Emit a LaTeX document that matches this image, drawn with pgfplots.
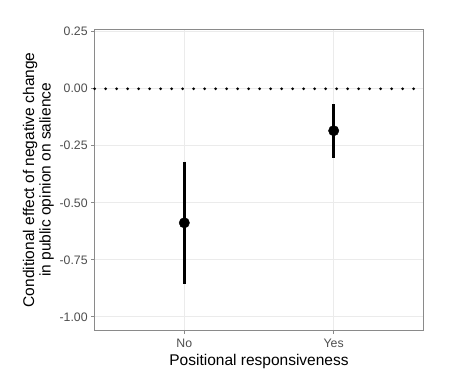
\documentclass[border=0pt]{standalone}
\usepackage{pgfplots}
\pgfplotsset{compat=1.18}
\usepackage{fontspec}
\setmainfont{Liberation Sans}
\definecolor{gridc}{HTML}{EBEBEB}
\definecolor{tickc}{HTML}{4D4D4D}
\definecolor{framec}{HTML}{8A8A8A}
\begin{document}
\begin{tikzpicture}[x=1bp,y=1bp]
\path[use as bounding box] (0,0) rectangle (458,379);
\begin{axis}[
  at={(94.7bp,49bp)}, anchor=south west,
  scale only axis, width=328.6bp, height=300.3bp,
  xmin=0.4, xmax=2.6, ymin=-1.058, ymax=0.259,
  xtick={1,2}, xticklabels={No,Yes},
  ytick={-1,-0.75,-0.5,-0.25,0,0.25},
  yticklabels={-1.00,-0.75,-0.50,-0.25,0.00,0.25},
  grid=major, major grid style={gridc, line width=0.8bp},
  axis line style={framec, line width=0.8bp},
  tick style={framec, line width=0.8bp},
  major tick length=3.5bp,
  tick align=outside, xtick pos=bottom, ytick pos=left,
  ticklabel style={font=\fontsize{12.3bp}{14bp}\selectfont, text=tickc},
  xticklabel style={yshift=-2bp},
  label style={font=\fontsize{15.5bp}{16.5bp}\selectfont},
  xlabel={Positional responsiveness},
  ylabel={Conditional effect of negative change\\in public opinion on salience},
  ylabel style={align=center, yshift=-1bp},
  xlabel style={yshift=0bp},
  clip=false,
]
\addplot[black, line width=3bp, dash pattern=on 0pt off 11bp, line cap=round, forget plot] coordinates {(0.4,0) (2.6,0)};
\addplot[black, line width=3.2bp, forget plot] coordinates {(1,-0.32) (1,-0.857)};
\addplot[black, line width=3.2bp, forget plot] coordinates {(2,-0.067) (2,-0.305)};
\addplot[only marks, mark=*, mark size=5.2bp, black] coordinates {(1,-0.588) (2,-0.184)};
\end{axis}
\end{tikzpicture}
\end{document}
